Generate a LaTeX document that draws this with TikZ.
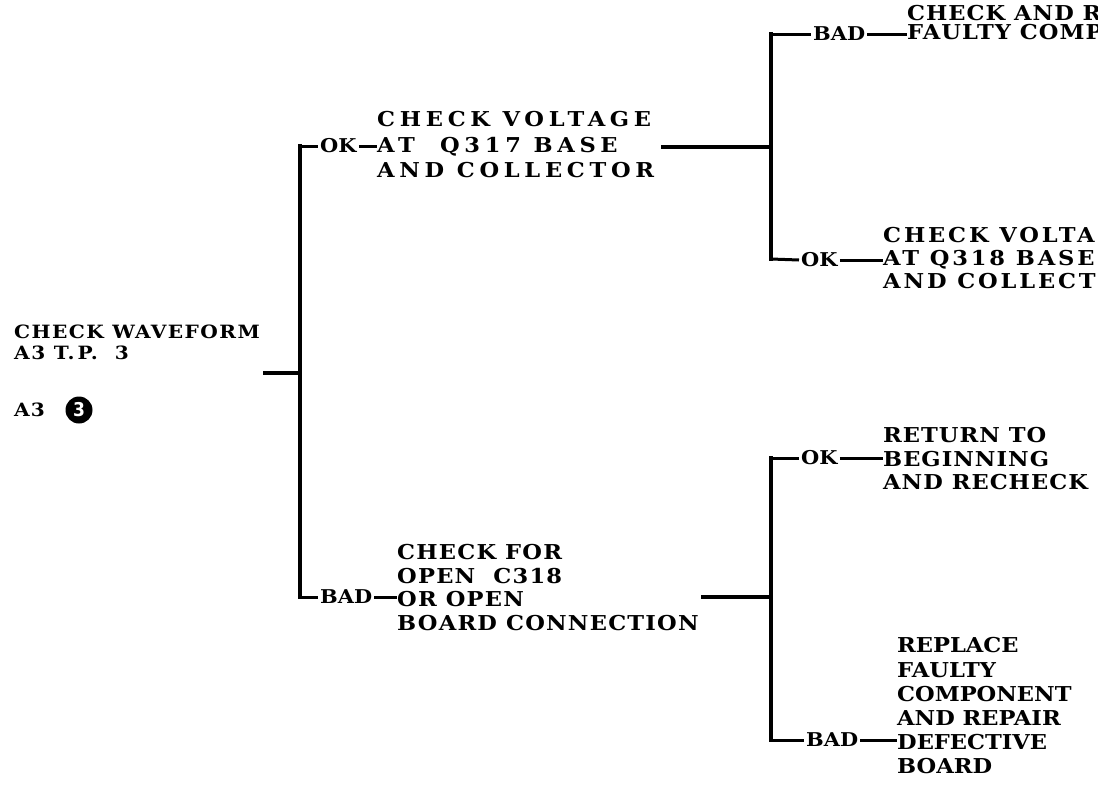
\documentclass[tikz,border=0pt]{standalone}
\usepackage{fontspec}
\setmainfont{DejaVu Serif}[UprightFont={* Bold},FakeStretch=1.1,LetterSpace=6]
\newfontfamily\numfont{DejaVu Sans Condensed Bold}
\begin{document}
\begin{tikzpicture}[x=1pt,y=-1pt,
  wire/.style={line width=3.4pt,line cap=rect},
  thin/.style={line width=3pt},
  lbl/.style={inner sep=2pt,anchor=west,font=\fontsize{19}{20}\selectfont\addfontfeature{LetterSpace=0}},
  blk/.style n args={3}{inner sep=0pt,anchor=north west,align=left,
    font=\fontsize{#1}{#2}\selectfont\addfontfeature{LetterSpace=#3}},
]
\useasboundingbox (0,0) rectangle (1098,787);
\clip (0,0) rectangle (1098,787);
% root
\node[blk={18.3}{21}{8}] (root) at (14,325) {CHECK WAVEFORM\\A3 T.\,P.\ \ 3};
\node[inner sep=0pt,anchor=west,font=\fontsize{18.3}{20}\selectfont] (a3) at (14,410) {A3};
\node[circle,fill=black,inner sep=0pt,minimum size=27pt,text=white,font=\numfont\fontsize{19}{19}\selectfont] (c3) at (79,410) {3};
\coordinate (rs) at (265,373);
\coordinate (j1) at (300,373);
\coordinate (c1t) at (300,146);
\coordinate (c1b) at (300,597);
\draw[wire] (rs) -- (j1);
\draw[wire] (c1t) -- (c1b);
% upper first level
\node[lbl] (ok1) at (318,146) {OK};
\node[blk={20.5}{25.5}{23}] (q317) at (377,111.5) {CHECK VOLTAGE\\AT\ \ Q317 BASE\\AND COLLECTOR};
\draw[thin] (c1t) -- (ok1.west);
\draw[thin] (ok1.east) -- (ok1.east -| q317.west);
% second junction upper
\coordinate (s2) at (663,147);
\coordinate (j2) at (771,147);
\coordinate (c2t) at (771,34);
\coordinate (c2b) at (771,259);
\draw[wire] (s2) -- (j2);
\draw[wire] (c2t) -- (c2b);
\node[lbl] (bad2) at (811,34) {BAD};
\node[blk={20.5}{19.5}{5}] (rep1) at (907,5) {CHECK AND REPLACE\\FAULTY COMPONENT};
\draw[thin] (c2t) -- (bad2.west);
\draw[thin] (bad2.east) -- (bad2.east -| rep1.west);
\node[lbl] (ok2) at (799,260) {OK};
\node[blk={20.5}{23}{14}] (q318) at (883,227.5) {CHECK VOLTAGE\\AT Q318 BASE\\AND COLLECTOR};
\draw[thin] (c2b) -- (ok2.west);
\draw[thin] (ok2.east) -- (ok2.east -| q318.west);
% lower first level
\node[lbl] (bad1) at (318,597) {BAD};
\node[blk={20.5}{23.5}{6}] (c318) at (397,544.5) {CHECK FOR\\OPEN\ \ C318\\OR OPEN\\BOARD CONNECTION};
\draw[thin] (c1b) -- (bad1.west);
\draw[thin] (bad1.east) -- (bad1.east -| c318.west);
% second junction lower
\coordinate (s3) at (703,597);
\coordinate (j3) at (771,597);
\coordinate (c3t) at (771,458);
\coordinate (c3b) at (771,740);
\draw[wire] (s3) -- (j3);
\draw[wire] (c3t) -- (c3b);
\node[lbl] (ok3) at (799,458) {OK};
\node[blk={20.5}{23.5}{5}] (ret) at (883,427.5) {RETURN TO\\BEGINNING\\AND RECHECK};
\draw[thin] (c3t) -- (ok3.west);
\draw[thin] (ok3.east) -- (ok3.east -| ret.west);
\node[lbl] (bad3) at (804,740) {BAD};
\node[blk={20.5}{24.2}{0}] (rep2) at (897,637.5) {REPLACE\\FAULTY\\COMPONENT\\AND REPAIR\\DEFECTIVE\\BOARD};
\draw[thin] (c3b) -- (bad3.west);
\draw[thin] (bad3.east) -- (bad3.east -| rep2.west);
\end{tikzpicture}
\end{document}
